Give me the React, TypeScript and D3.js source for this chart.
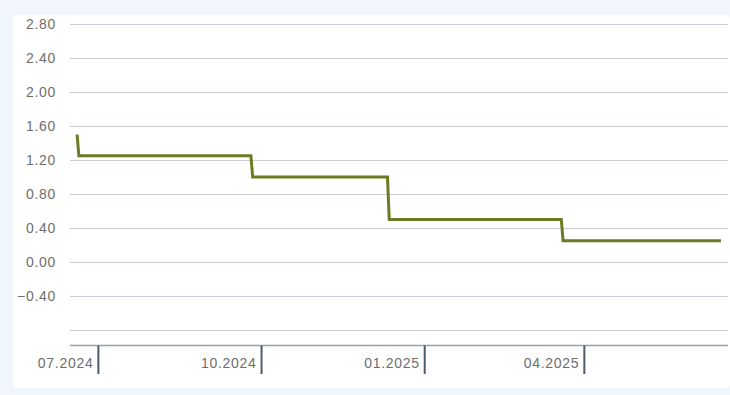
import React, { useEffect, useRef } from "react"
import * as d3 from "d3"

// policy rate, change points (day before / day of each step)
const dates = ["2024-06-19", "2024-06-20", "2024-09-25", "2024-09-26", "2024-12-11", "2024-12-12", "2025-03-19", "2025-03-20", "2025-06-17"]
const rates = [1.5, 1.25, 1.25, 1.0, 1.0, 0.5, 0.5, 0.25, 0.25]

const yTicks = [2.8, 2.4, 2.0, 1.6, 1.2, 0.8, 0.4, 0.0, -0.4, -0.8]
const yLabelled = [2.8, 2.4, 2.0, 1.6, 1.2, 0.8, 0.4, 0.0, -0.4]
const xTicks = ["2024-07-01", "2024-10-01", "2025-01-01", "2025-04-01"]

const width = 730
const height = 395
const plot = { left: 70, right: 728, axisY: 345.5 }

export default function App() {
  const ref = useRef<SVGSVGElement>(null)

  useEffect(() => {
    const svg = d3.select(ref.current)
    svg.selectAll("*").remove()

    const parse = d3.timeParse("%Y-%m-%d")
    const x = d3.scaleTime()
      .domain([parse("2024-06-15")!, parse("2025-06-21")!])
      .range([plot.left, plot.right])
    const y = d3.scaleLinear().domain([-0.8, 2.8]).range([330, 24])

    svg.append("rect").attr("width", width).attr("height", height).attr("fill", "#f1f6fd")
    svg.append("rect")
      .attr("x", 13).attr("y", 15).attr("width", 717).attr("height", 373)
      .attr("rx", 4).attr("fill", "#ffffff")

    // gridlines
    svg.append("g").selectAll("line").data(yTicks).enter().append("line")
      .attr("x1", plot.left).attr("x2", plot.right)
      .attr("y1", d => Math.round(y(d)) + 0.5).attr("y2", d => Math.round(y(d)) + 0.5)
      .attr("stroke", "#c9ced4").attr("stroke-width", 1)

    svg.append("g").selectAll("text").data(yLabelled).enter().append("text")
      .attr("x", 56).attr("y", d => y(d)).attr("dy", "0.35em")
      .attr("text-anchor", "end")
      .style("font-family", "'Liberation Sans', Arial, sans-serif")
      .style("font-size", "14px").style("letter-spacing", "0.7px")
      .attr("fill", "#6e6e6e")
      .text(d => d3.format(".2f")(d))

    // x axis
    svg.append("line")
      .attr("x1", plot.left).attr("x2", plot.right)
      .attr("y1", plot.axisY).attr("y2", plot.axisY)
      .attr("stroke", "#97a1ab").attr("stroke-width", 1.5)

    const fmt = d3.timeFormat("%m.%Y")
    const xt = svg.append("g").selectAll("g").data(xTicks.map(d => parse(d)!)).enter().append("g")
    xt.append("line")
      .attr("x1", d => x(d)).attr("x2", d => x(d))
      .attr("y1", plot.axisY).attr("y2", 374)
      .attr("stroke", "#4d5b6b").attr("stroke-width", 2)
    xt.append("text")
      .attr("x", d => x(d) - 5).attr("y", 363).attr("dy", "0.35em")
      .attr("text-anchor", "end")
      .style("font-family", "'Liberation Sans', Arial, sans-serif")
      .style("font-size", "14px").style("letter-spacing", "0.7px")
      .attr("fill", "#6e6e6e")
      .text(d => fmt(d))

    // rate line
    const pts = dates.map((d, i) => [x(parse(d)!), y(rates[i])] as [number, number])
    svg.append("path")
      .attr("d", d3.line()(pts))
      .attr("fill", "none").attr("stroke", "#6b7a23").attr("stroke-width", 3)
  }, [])

  return (
    <svg ref={ref} width={width} height={height}
      style={{ position: "absolute", left: 0, top: 0, display: "block" }} />
  )
}
